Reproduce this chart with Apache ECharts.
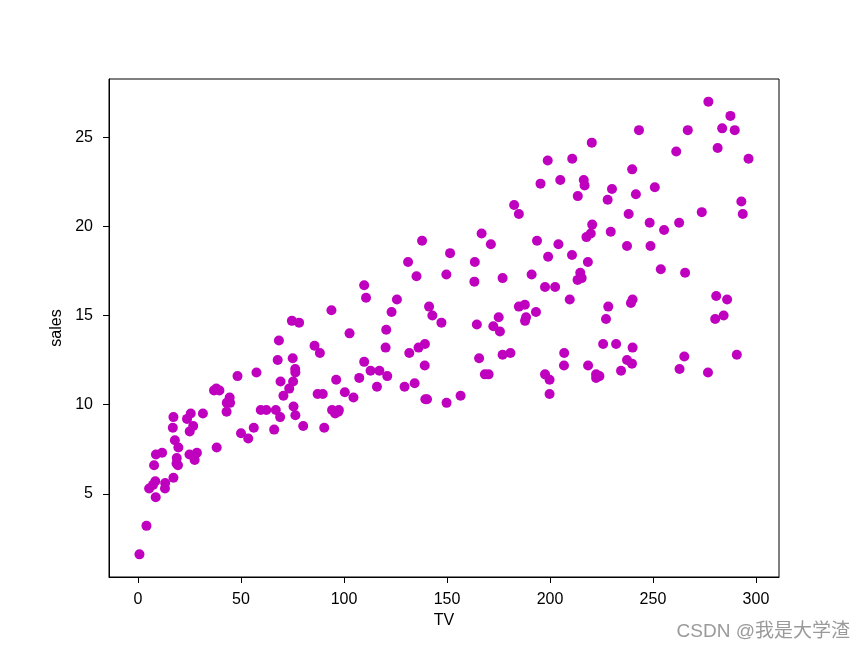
<!DOCTYPE html>
<html>
<head>
<meta charset="utf-8">
<script src="https://cdn.jsdelivr.net/npm/echarts@6/dist/echarts.min.js"></script>
<style>html,body{margin:0;padding:0;background:#fff;}#c{width:865px;height:649px;}</style>
</head>
<body>
<div id="c"></div>
<script>
const tv = [230.1,44.5,17.2,151.5,180.8,8.7,57.5,120.2,8.6,199.8,66.1,214.7,23.8,97.5,204.1,195.4,67.8,281.4,69.2,147.3,218.4,237.4,13.2,228.3,62.3,262.9,142.9,240.1,248.8,70.6,292.9,112.9,97.2,265.6,95.7,290.7,266.9,74.7,43.1,228,202.5,177,293.6,206.9,25.1,175.1,89.7,239.9,227.2,66.9,199.8,100.4,216.4,182.6,262.7,198.9,7.3,136.2,210.8,210.7,53.5,261.3,239.3,102.7,131.1,69,31.5,139.3,237.4,216.8,199.1,109.8,26.8,129.4,213.4,16.9,27.5,120.5,5.4,116,76.4,239.8,75.3,68.4,213.5,193.2,76.3,110.7,88.3,109.8,134.3,28.6,217.7,250.9,107.4,163.3,197.6,184.9,289.7,135.2,222.4,296.4,280.2,187.9,238.2,137.9,25,90.4,13.1,255.4,225.8,241.7,175.7,209.6,78.2,75.1,139.2,76.4,125.7,19.4,141.3,18.8,224,123.1,229.5,87.2,7.8,80.2,220.3,59.6,0.7,265.2,8.4,219.8,36.9,48.3,25.6,273.7,43,184.9,73.4,193.7,220.5,104.6,96.2,140.3,240.1,243.2,38,44.7,280.7,121,197.6,171.3,187.8,4.1,93.9,149.8,11.7,131.7,172.5,85.7,188.4,163.5,117.2,234.5,17.9,206.8,215.4,284.3,50,164.5,19.6,168.4,222.4,276.9,248.4,170.2,276.7,165.6,156.6,218.5,56.2,287.6,253.8,205,139.5,191.1,286,18.7,39.5,75.5,17.2,166.8,149.7,38.2,94.2,177,283.6,232.1];
const sales = [22.1,10.4,9.3,18.5,12.9,7.2,11.8,13.2,4.8,10.6,8.6,17.4,9.2,9.7,19,22.4,12.5,24.4,11.3,14.6,18,12.5,5.6,15.5,9.7,12,15,15.9,18.9,10.5,21.4,11.9,9.6,17.4,9.5,12.8,25.4,14.7,10.1,21.5,16.6,17.1,20.7,12.9,8.5,14.9,10.6,23.2,14.8,9.7,11.4,10.7,22.6,21.2,20.2,23.7,5.5,13.2,23.8,18.4,8.1,24.2,15.7,14,18,9.3,9.5,13.4,18.9,22.3,18.3,12.4,8.8,11,17,8.7,6.9,14.2,5.3,11,11.8,12.3,11.3,13.6,21.7,15.2,12,16,12.9,16.7,11.2,7.3,19.4,22.2,11.5,16.9,11.7,15.5,25.4,17.2,11.7,23.8,14.8,14.7,20.7,19.2,7.2,8.7,5.3,19.8,13.4,21.8,14.1,15.9,14.6,12.6,12.2,9.4,15.9,6.6,15.5,7,11.6,15.2,19.7,10.6,6.6,8.8,24.7,9.7,1.6,12.7,5.7,19.6,10.8,11.6,9.5,20.8,9.6,20.7,10.9,19.2,20.1,10.4,11.4,10.3,13.2,25.4,10.9,10.1,16.1,11.6,16.6,19,15.6,3.2,15.3,10.1,7.3,12.9,14.4,13.3,14.9,18,11.9,11.9,8,12.2,17.1,15,8.4,14.5,7.6,11.7,11.5,27,20.2,11.7,11.8,12.6,10.5,12.2,8.7,26.2,17.6,22.6,10.3,17.3,15.9,6.7,10.8,9.9,5.9,19.6,17.3,7.6,9.7,12.8,25.5,13.4];
const xTicks = [0,50,100,150,200,250,300];
const yTicks = [5,10,15,20,25];
const xLabel = 'TV';
const yLabel = 'sales';
const watermark = 'CSDN @我是大学渣';

const points = tv.map((v,i)=>[v, sales[i]]);
const font = '"Liberation Sans", Arial, "Noto Sans CJK SC", sans-serif';
const chart = echarts.init(document.getElementById('c'), null, {renderer:'canvas'});
chart.setOption({
  animation:false,
  backgroundColor:'#fff',
  grid:{left:109, top:79, right:86, bottom:72, show:true, borderColor:'#000', borderWidth:1, containLabel:false},
  xAxis:{type:'value', min:-14.085, max:311.185,
    name:xLabel, nameLocation:'middle', nameGap:33,
    nameTextStyle:{color:'#000', fontSize:16, fontFamily:font},
    splitLine:{show:false},
    axisLine:{show:true, onZero:false, lineStyle:{color:'#000', width:1}},
    axisTick:{show:true, inside:false, length:6, lineStyle:{color:'#000'}, customValues:xTicks},
    axisLabel:{color:'#000', fontSize:16, fontFamily:font, margin:15, customValues:xTicks}
  },
  yAxis:{type:'value', min:0.33, max:28.27,
    name:yLabel, nameLocation:'middle', nameGap:34, nameRotate:90,
    nameTextStyle:{color:'#000', fontSize:16, fontFamily:font},
    splitLine:{show:false},
    axisLine:{show:true, onZero:false, lineStyle:{color:'#000', width:1}},
    axisTick:{show:true, inside:false, length:6, lineStyle:{color:'#000'}, customValues:yTicks},
    axisLabel:{color:'#000', fontSize:16, fontFamily:font, margin:16, customValues:yTicks}
  },
  series:[{type:'scatter', data:points, symbol:'circle', symbolSize:10,
    itemStyle:{color:'#bf00bf', opacity:1}}],
  graphic:[{type:'text', right:15, bottom:8, style:{text:watermark, fill:'#9a9a9a', font:'19px "Liberation Sans", "Noto Sans CJK SC", sans-serif'}}]
});
</script>
</body>
</html>
